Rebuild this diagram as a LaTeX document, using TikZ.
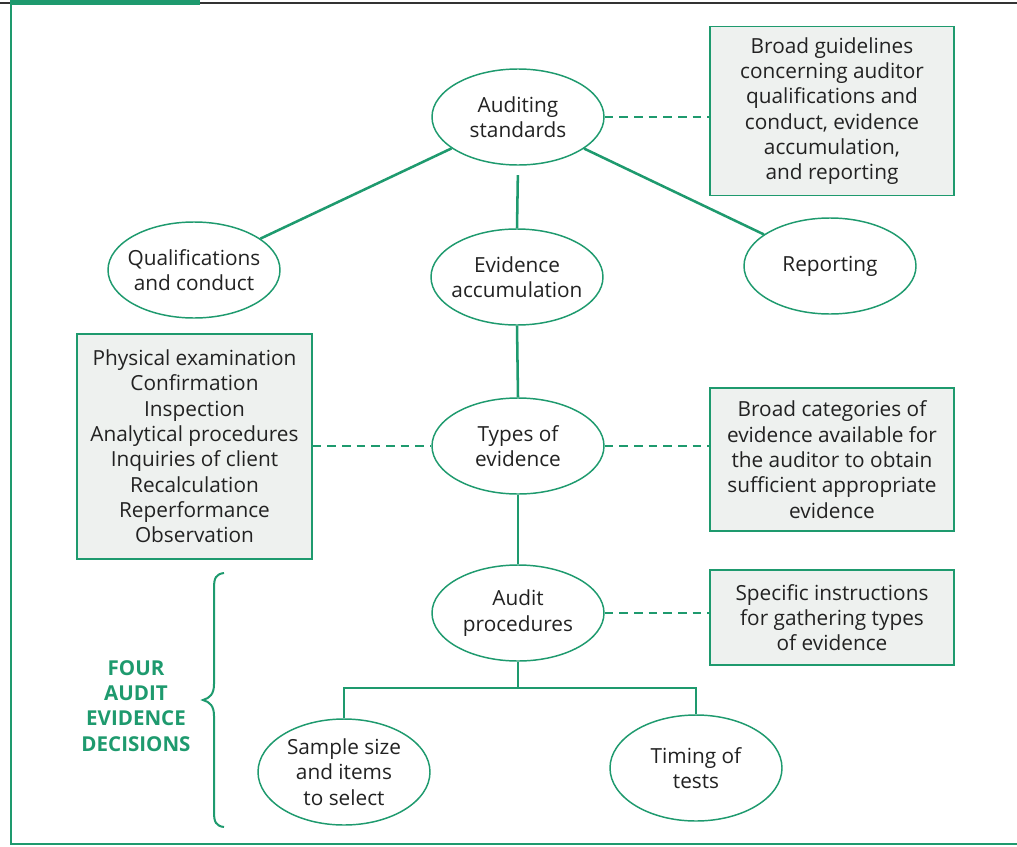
\documentclass[tikz,border=0pt]{standalone}
\usepackage{fontspec}
\setmainfont{Open Sans}
\usetikzlibrary{shapes.geometric}
\definecolor{aegreen}{HTML}{1E9A6E}
\definecolor{aetext}{HTML}{222222}
\definecolor{aefill}{HTML}{EEF1EF}
\begin{document}
\begin{tikzpicture}[x=0.75pt,y=-0.75pt,
  every node/.style={text=aetext,font=\fontsize{15.6}{19}\selectfont,align=center},
  oval/.style={ellipse,draw=aegreen,line width=1.1pt,fill=white,
    inner xsep=-20pt,inner ysep=-12pt,
    minimum width=129pt,minimum height=72pt},
  tall oval/.style={oval,minimum height=79.5pt},
  notebox/.style={rectangle,draw=aegreen,line width=1.1pt,fill=aefill,inner sep=0pt},
  link/.style={draw=aegreen,line width=1.9pt},
  dashlink/.style={draw=aegreen,line width=1.7pt,dash pattern=on 6.5pt off 4.5pt},
  frame/.style={draw=aegreen,line width=1.5pt}]
% page size
\useasboundingbox (0,0) rectangle (1017,846);
% outer frame
\draw[line width=1.6pt,draw=black!80] (0,3) -- (1017,3);
\fill[aegreen] (10,0) rectangle (200,5);
\draw[frame] (11,4) -- (11,844) -- (1017,844);

% ovals
\node[oval] (as) at (518,117) {Auditing\\standards};
\node[oval] (qc) at (194,270) {Qualifications\\and conduct};
\node[oval] (ea) at (517,277) {Evidence\\accumulation};
\node[oval] (rp) at (830,266) {Reporting};
\node[oval] (te) at (518,446) {Types of\\evidence};
\node[oval] (ap) at (518,613) {Audit\\procedures};
\node[tall oval] (ss) at (344,772) {Sample size\\and items\\to select};
\node[tall oval] (tt) at (696,768) {Timing of\\tests};

% note boxes
\node[notebox,minimum width=183pt,minimum height=126.75pt] (nb1) at (832,111)
  {Broad guidelines\\concerning auditor\\qualifications and\\conduct, evidence\\accumulation,\\and reporting};
\node[notebox,minimum width=176.25pt,minimum height=168.75pt] (nb2) at (194.5,446.5)
  {Physical examination\\Confirmation\\Inspection\\Analytical procedures\\Inquiries of client\\Recalculation\\Reperformance\\Observation};
\node[notebox,minimum width=183pt,minimum height=107.25pt] (nb3) at (832,459.5)
  {Broad categories of\\evidence available for\\the auditor to obtain\\sufficient appropriate\\evidence};
\node[notebox,minimum width=183pt,minimum height=71.25pt] (nb4) at (832,617.5)
  {Specific instructions\\for gathering types\\of evidence};

% solid connectors
\draw[link] (as) -- (qc);
\draw[link] (as) -- (rp);
\draw[link,shorten <=7pt] (as.south) -- (ea.north);
\draw[link] (ea.south) -- (te.north);
\draw[link] (te.south) -- (ap.north);
\coordinate (bus) at (518,688);
\draw[link] (ap.south) -- (bus);
\draw[link] (ss.north) |- (bus) -| (tt.north);

% dashed connectors
\draw[dashlink] (as.east) -- (as.east -| nb1.west);
\draw[dashlink] (nb2.east |- te.west) -- (te.west);
\draw[dashlink] (te.east) -- (te.east -| nb3.west);
\draw[dashlink] (ap.east) -- (ap.east -| nb4.west);

% brace and label
\draw[aegreen,line width=1.5pt]
  (224,573) .. controls (216,574) and (214,578) .. (214,588)
  -- (214,684) .. controls (214,694) and (210,698) .. (203,700)
  .. controls (210,702) and (214,706) .. (214,716)
  -- (214,812) .. controls (214,822) and (216,826) .. (224,827);
\node[text=aegreen,font=\fontsize{15.4}{18.9}\bfseries\selectfont] (lbl) at (136,706)
  {FOUR\\AUDIT\\EVIDENCE\\DECISIONS};
\end{tikzpicture}
\end{document}
